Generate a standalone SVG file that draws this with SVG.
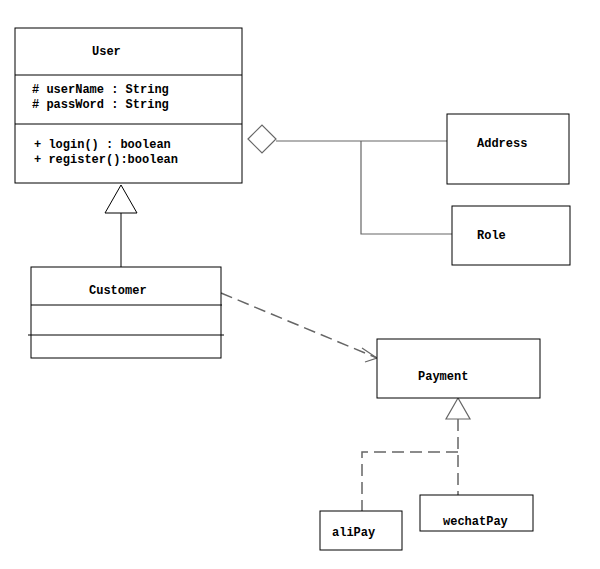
<svg xmlns="http://www.w3.org/2000/svg" width="600" height="569" viewBox="0 0 600 569">
<style>
.box{fill:#fff;stroke:#000;stroke-width:1}
.ln{stroke:#000;stroke-width:1;fill:none}
.gl{stroke:#666;stroke-width:1.2;fill:none}
.da{stroke:#666;stroke-width:1.5;fill:none;stroke-dasharray:12,6}
text{font-family:"Liberation Mono","DejaVu Sans Mono",monospace;font-size:12px;font-weight:bold;fill:#000}
</style>
<rect width="600" height="569" fill="#fff"/>
<g id="connectors">
<polyline class="gl" points="276,141 447,141"/>
<polyline class="gl" points="361,141 361,234 452,234"/>
<polygon class="gl" fill="#fff" points="248,139 262,125 276,139 262,153"/>
<line class="ln" x1="121" y1="213" x2="121" y2="267"/>
<polygon class="ln" points="121,185 105,213 137,213"/>
<line class="da" x1="221" y1="293" x2="377" y2="358"/>
<polyline class="gl" points="362,348 377,358 365,362"/>
<polygon class="gl" points="458,398 446,419 470,419"/>
<line class="da" x1="458" y1="419" x2="458" y2="495"/>
<polyline class="da" points="458,452 362,452 362,511"/>
</g>
<g id="User">
<rect class="box" x="15" y="28" width="227" height="155"/>
<line class="ln" x1="15" y1="75" x2="242" y2="75"/>
<line class="ln" x1="15" y1="124" x2="242" y2="124"/>
<text x="92" y="55">User</text>
<text x="32" y="93">#  userName : String</text>
<text x="32" y="108">#  passWord : String</text>
<text x="34" y="148">+  login() : boolean</text>
<text x="34" y="163">+  register():boolean</text>
</g>
<g id="Customer">
<rect class="box" x="31" y="267" width="190" height="91"/>
<line class="ln" x1="31" y1="305" x2="222" y2="305"/>
<line class="ln" x1="28" y1="335" x2="224" y2="335"/>
<text x="89" y="294">Customer</text>
</g>
<g id="Address">
<rect class="box" x="447" y="114" width="122" height="70"/>
<text x="477" y="147">Address</text>
</g>
<g id="Role">
<rect class="box" x="452" y="206" width="118" height="59"/>
<text x="477" y="239">Role</text>
</g>
<g id="Payment">
<rect class="box" x="377" y="339" width="163" height="59"/>
<text x="418" y="380">Payment</text>
</g>
<g id="wechatPay">
<rect class="box" x="420" y="495" width="113" height="36"/>
<text x="443" y="525">wechatPay</text>
</g>
<g id="aliPay">
<rect class="box" x="320" y="511" width="82" height="39"/>
<text x="332" y="536">aliPay</text>
</g>
</svg>
